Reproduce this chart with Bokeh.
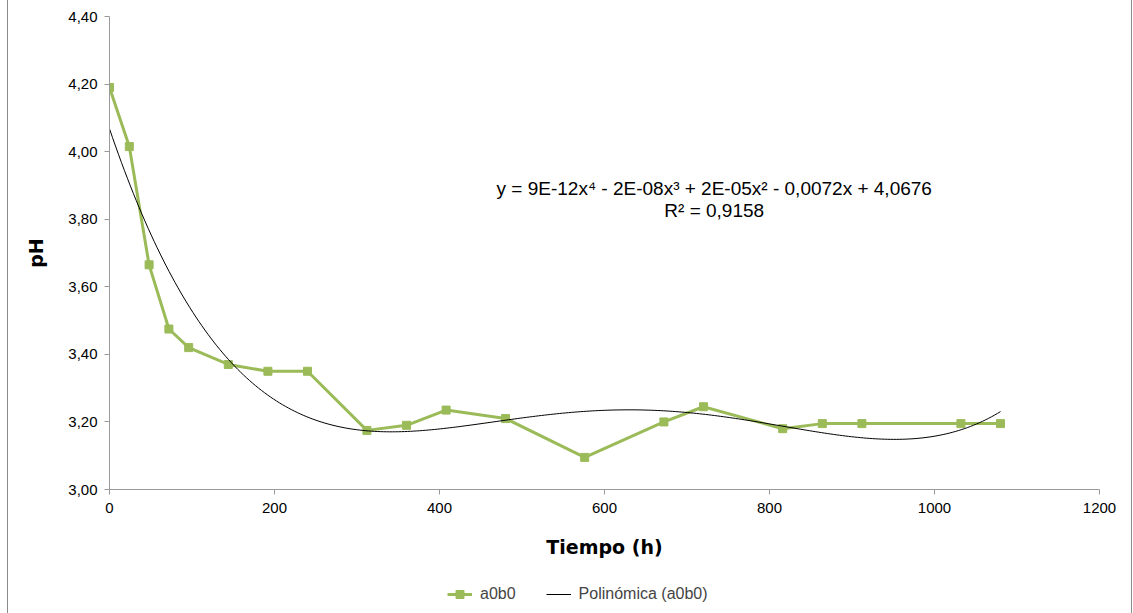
import numpy as np
from bokeh.plotting import figure
from bokeh.layouts import column
from bokeh.models import (Range1d, FixedTicker, CustomJSTickFormatter, Legend,
                          LegendItem, Label, ColumnDataSource)
from bokeh.embed import file_html
from bokeh.resources import INLINE

# pH readings over time for sample a0b0
tiempo_h = [0, 24, 48, 72, 96, 144, 192, 240, 312, 360, 408, 480, 576, 672, 720,
            816, 864, 912, 1032, 1080]
ph_a0b0 = [4.19, 4.015, 3.665, 3.475, 3.42, 3.37, 3.35, 3.35, 3.175, 3.19, 3.235,
           3.21, 3.095, 3.20, 3.245, 3.18, 3.195, 3.195, 3.195, 3.195]

x_ticks = [0, 200, 400, 600, 800, 1000, 1200]
y_ticks = [3.0, 3.2, 3.4, 3.6, 3.8, 4.0, 4.2, 4.4]

series_name = "a0b0"
trend_name = "Polin\u00f3mica (a0b0)"
eq_text = "y = 9E-12x\u2074 - 2E-08x\u00b3 + 2E-05x\u00b2 - 0,0072x + 4,0676"
r2_text = "R\u00b2 = 0,9158"

# 4th-order polynomial trend line fitted to the series
coef = np.polyfit(tiempo_h, ph_a0b0, 4)
x_fit = np.linspace(min(tiempo_h), max(tiempo_h), 300)
y_fit = np.polyval(coef, x_fit)

GREEN = "#9BBB59"
AXIS = "#9a9a9a"
FONT = "Liberation Sans"
BORDER = {"border-left": "1px solid #8a8a8a", "border-right": "1px solid #8a8a8a"}

p = figure(width=1125, height=572, output_backend="svg", toolbar_location=None,
           x_range=Range1d(0, 1200), y_range=Range1d(3.0, 4.4),
           min_border_left=101, min_border_right=34, min_border_top=16,
           min_border_bottom=83)
p.margin = (0, 0, 0, 7)
p.styles = BORDER

p.outline_line_color = None
p.xgrid.visible = False
p.ygrid.visible = False

src = ColumnDataSource(dict(x=tiempo_h, y=ph_a0b0))
p.line("x", "y", source=src, line_color=GREEN, line_width=3)
p.scatter("x", "y", source=src, marker="square", size=8,
          fill_color=GREEN, line_color=GREEN)
p.line(x_fit, y_fit, line_color="#000000", line_width=1)

for ax in (p.xaxis[0], p.yaxis[0]):
    ax.axis_line_color = AXIS
    ax.major_tick_line_color = AXIS
    ax.minor_tick_line_color = None
    ax.major_tick_out = 5
    ax.major_tick_in = 0
    ax.major_label_text_font = FONT
    ax.major_label_text_font_size = "15px"
    ax.major_label_text_color = "#000000"
    ax.axis_label_text_font = "DejaVu Sans"
    ax.axis_label_text_font_style = "bold"
    ax.axis_label_text_font_size = "19px"
    ax.axis_label_text_color = "#000000"

p.xaxis.ticker = FixedTicker(ticks=x_ticks)
p.yaxis.ticker = FixedTicker(ticks=y_ticks)
p.yaxis.formatter = CustomJSTickFormatter(code="return tick.toFixed(2).replace('.', ',');")
p.xaxis.major_label_standoff = 8
p.yaxis.major_label_standoff = 7
p.xaxis.axis_label = "Tiempo (h)"
p.yaxis.axis_label = "pH"
p.xaxis.axis_label_standoff = 20
p.yaxis.axis_label_standoff = 18

p.add_layout(Label(x=733, y=3.891, text=eq_text, text_align="center",
                   text_baseline="middle", text_font=FONT, text_font_size="19px",
                   text_color="#000000"))
p.add_layout(Label(x=733, y=3.826, text=r2_text, text_align="center",
                   text_baseline="middle", text_font=FONT, text_font_size="19px",
                   text_color="#000000"))

# Legend strip underneath the chart; its renderers share the series source but
# fall outside this strip's ranges, so only the legend swatches show.
lg = figure(width=1125, height=41, output_backend="svg", toolbar_location=None,
            x_range=Range1d(-2, -1), y_range=Range1d(-2, -1),
            x_axis_type=None, y_axis_type=None,
            min_border_left=0, min_border_right=0, min_border_top=0,
            min_border_bottom=0)
lg.margin = (0, 0, 0, 7)
lg.styles = BORDER
lg.outline_line_color = None
lg.xgrid.visible = False
lg.ygrid.visible = False
l_ln = lg.line("x", "y", source=src, line_color=GREEN, line_width=3)
l_pt = lg.scatter("x", "y", source=src, marker="square", size=8,
                  fill_color=GREEN, line_color=GREEN)
l_tr = lg.line(x_fit, y_fit, line_color="#000000", line_width=1)

legend = Legend(items=[LegendItem(label=series_name, renderers=[l_ln, l_pt]),
                       LegendItem(label=trend_name, renderers=[l_tr])],
                orientation="horizontal", location=(338, 9))
legend.label_text_font = FONT
legend.label_text_font_size = "16px"
legend.border_line_color = None
legend.background_fill_alpha = 0
legend.glyph_width = 25
legend.label_standoff = 8
legend.spacing = 30
legend.margin = 0
legend.padding = 5
lg.add_layout(legend)

layout = column(p, lg, spacing=0)
open("out.html", "w").write(file_html(layout, INLINE))
